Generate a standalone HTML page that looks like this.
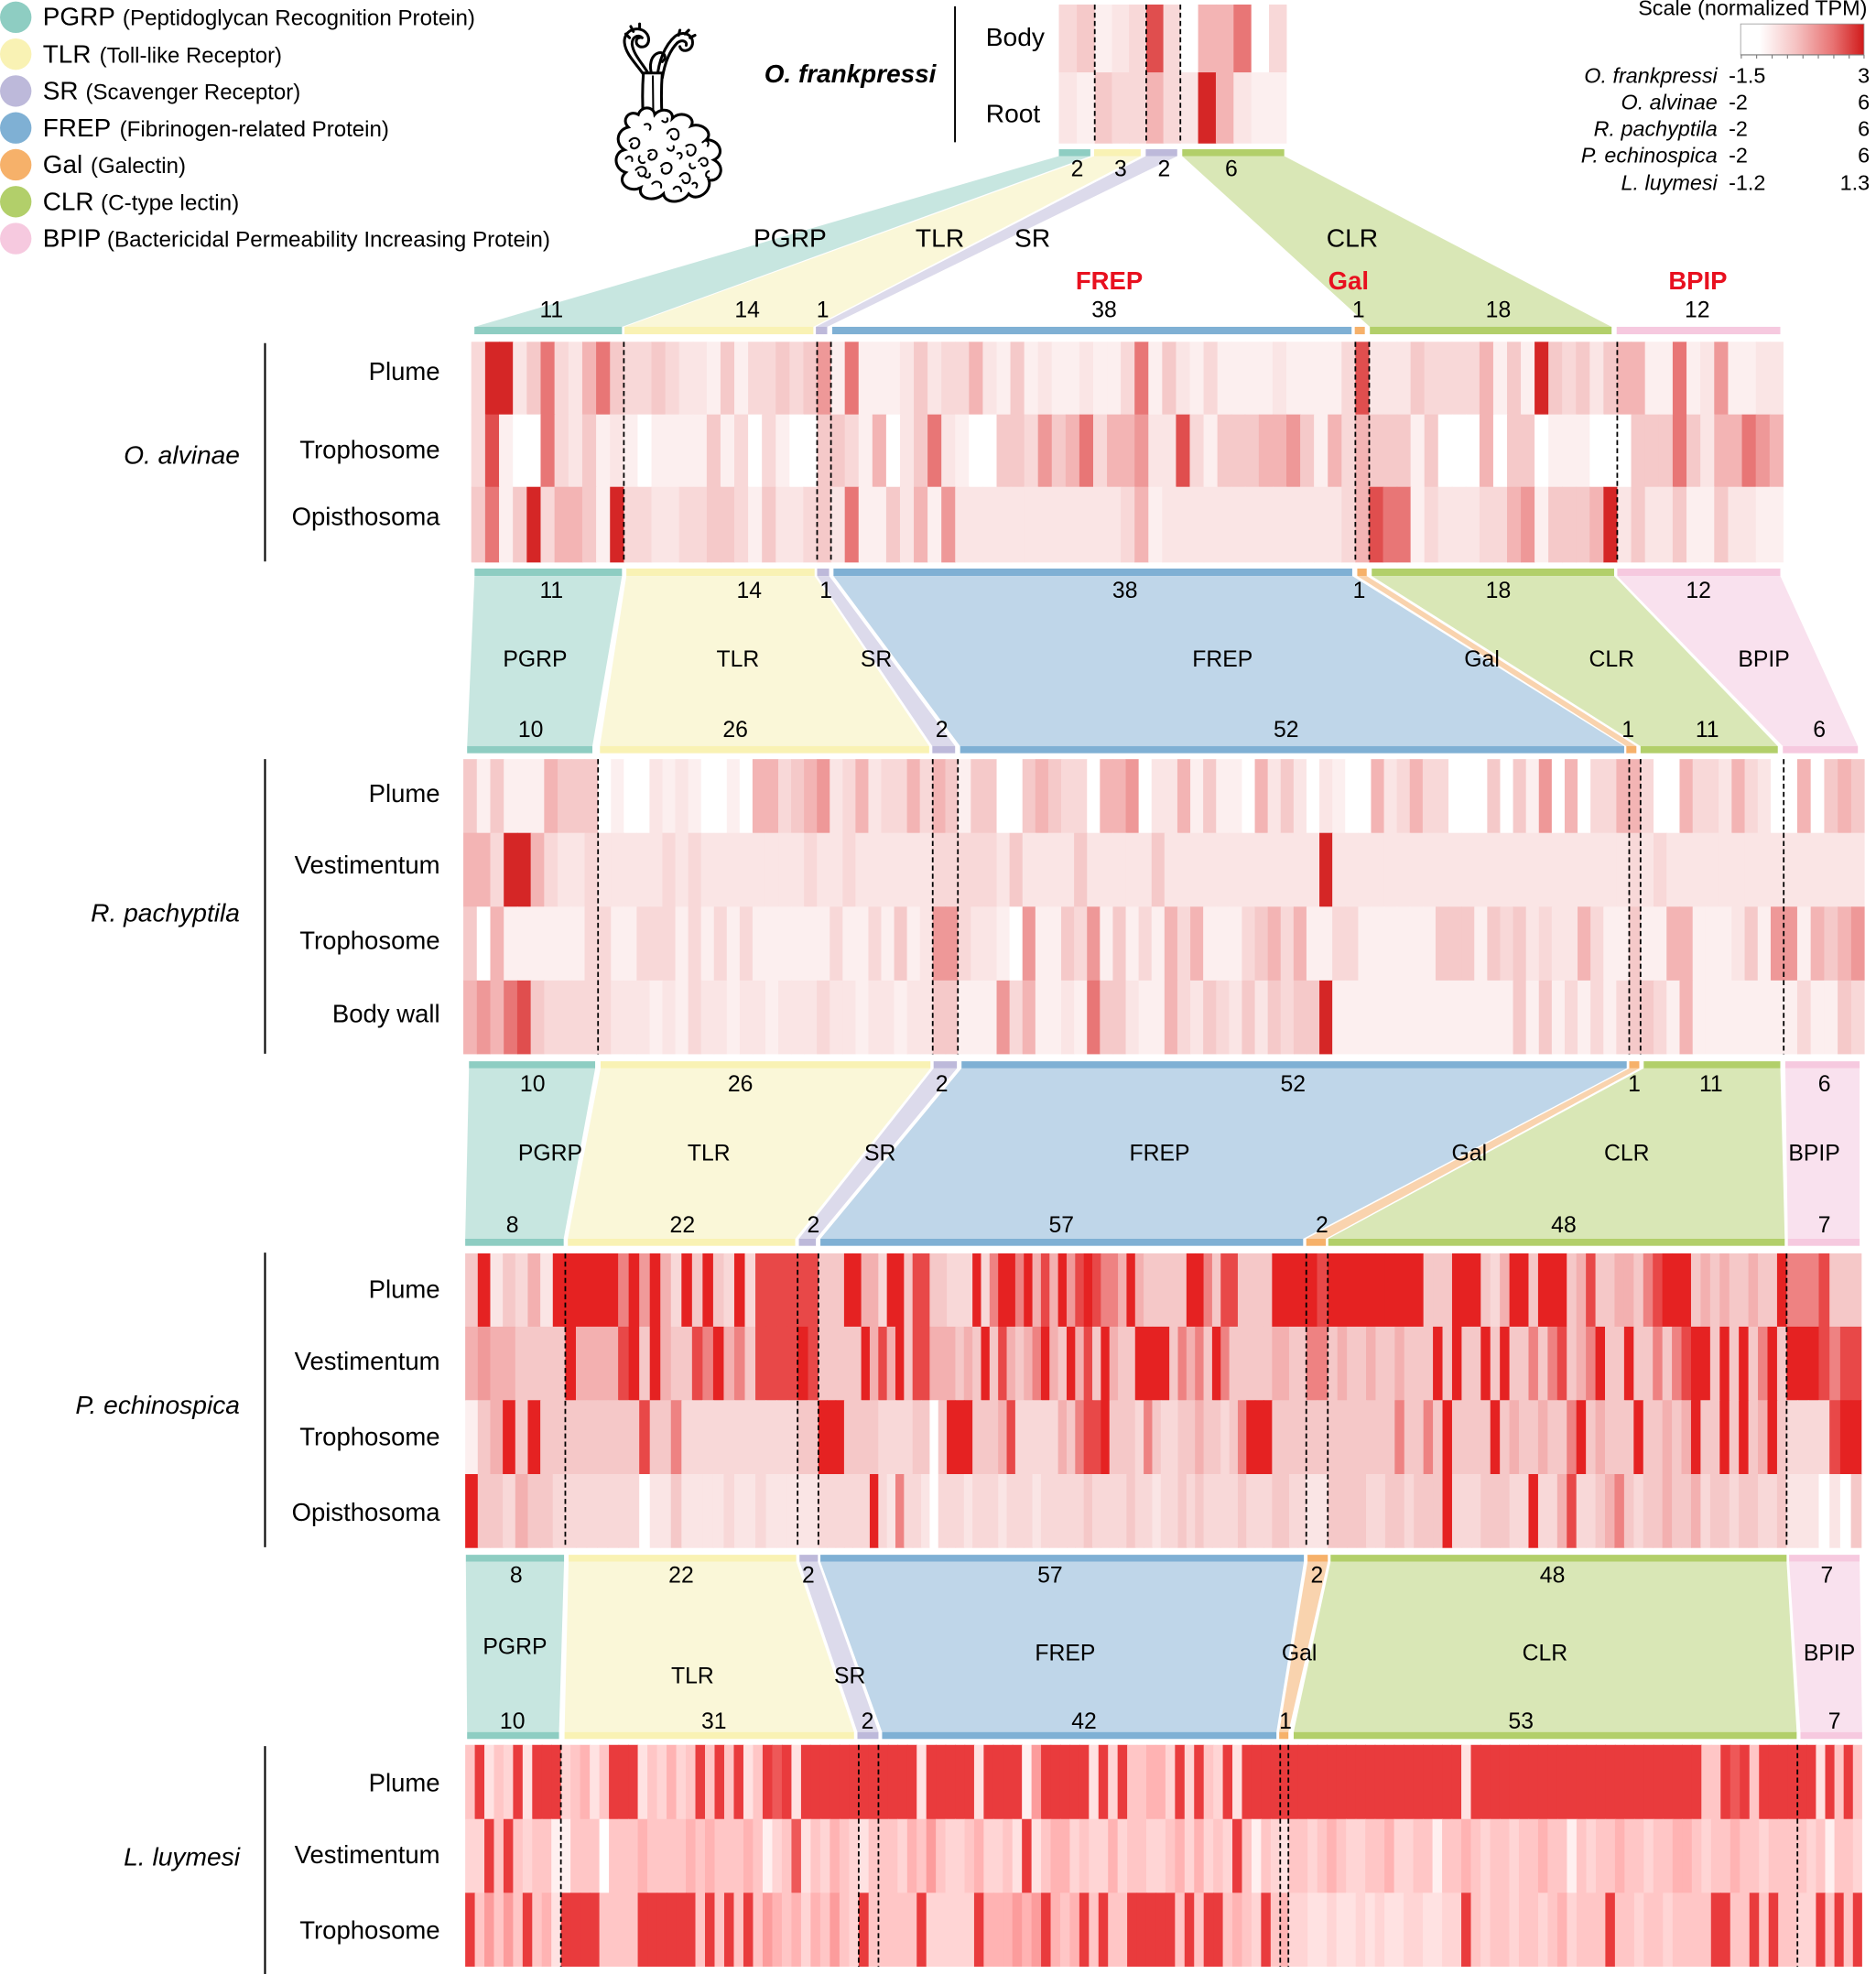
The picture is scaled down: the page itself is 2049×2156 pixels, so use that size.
<!DOCTYPE html>
<html><head><meta charset="utf-8">
<style>
html,body{margin:0;padding:0;background:#fff;}
svg{display:block;}
text{font-family:"Liberation Sans",Arial,Helvetica,sans-serif;fill:#000;}
.n{font-size:18px;text-anchor:middle;}
.l0{font-size:20.5px;text-anchor:middle;}
.l{font-size:18px;text-anchor:middle;}
.r{font-size:20px;font-weight:bold;text-anchor:middle;fill:#E8101F;}
.row{font-size:20px;text-anchor:end;}
.sp{font-size:20.5px;font-style:italic;text-anchor:end;}
.sc{font-size:17px;}
.sci{font-size:17px;font-style:italic;text-anchor:end;}
</style></head><body>
<svg id="c" xmlns="http://www.w3.org/2000/svg" width="2049" height="2156" viewBox="0 0 1490 1568" preserveAspectRatio="none">
<defs>
<linearGradient id="gr" x1="0" x2="1" y1="0" y2="0">
<stop offset="0" stop-color="#FFFFFF"/><stop offset="0.15" stop-color="#FFFFFF"/>
<stop offset="0.45" stop-color="#F5C2C2"/><stop offset="0.75" stop-color="#E87272"/>
<stop offset="1" stop-color="#D01A1A"/>
</linearGradient>
</defs>
<rect x="0" y="0" width="1490" height="1568" fill="#fff"/>
<g id="traps"></g>
<g id="bars"></g>
<g id="heat"></g>
<g id="dash"></g>

<!-- Legend -->
<circle cx="12.5" cy="13.7" r="12.5" fill="#8ECDC2"/>
<circle cx="12.5" cy="43.0" r="12.5" fill="#F9F2B4"/>
<circle cx="12.5" cy="72.3" r="12.5" fill="#BDB9DA"/>
<circle cx="12.5" cy="101.6" r="12.5" fill="#7FB0D4"/>
<circle cx="12.5" cy="130.9" r="12.5" fill="#F6B16A"/>
<circle cx="12.5" cy="160.2" r="12.5" fill="#B2CF6A"/>
<circle cx="12.5" cy="189.5" r="12.5" fill="#F6C9DF"/>
<text x="34" y="19.9" font-size="20.3">PGRP</text>
<text x="97.4" y="19.9" font-size="17.5" textLength="280" lengthAdjust="spacingAndGlyphs">(Peptidoglycan Recognition Protein)</text>
<text x="34" y="49.9" font-size="20.3">TLR</text>
<text x="79" y="49.9" font-size="17.5" textLength="145" lengthAdjust="spacingAndGlyphs">(Toll-like Receptor)</text>
<text x="34" y="78.8" font-size="20.3">SR</text>
<text x="68" y="78.8" font-size="17.5" textLength="170.7" lengthAdjust="spacingAndGlyphs">(Scavenger Receptor)</text>
<text x="34" y="108.4" font-size="20.3">FREP</text>
<text x="95" y="108.4" font-size="17.5" textLength="214" lengthAdjust="spacingAndGlyphs">(Fibrinogen-related Protein)</text>
<text x="34" y="137.5" font-size="20.3">Gal</text>
<text x="72" y="137.5" font-size="17.5" textLength="75.6" lengthAdjust="spacingAndGlyphs">(Galectin)</text>
<text x="34" y="166.8" font-size="20.3">CLR</text>
<text x="80" y="166.8" font-size="17.5" textLength="110" lengthAdjust="spacingAndGlyphs">(C-type lectin)</text>
<text x="34" y="195.9" font-size="20.3">BPIP</text>
<text x="85" y="195.9" font-size="17.5" textLength="352" lengthAdjust="spacingAndGlyphs">(Bactericidal Permeability Increasing Protein)</text>

<!-- Worm icon -->
<g fill="none" stroke="#000" stroke-width="2.2" stroke-linecap="round">
<path d="M513 62 C507 52 497 44 496 34 C495 25 505 20 512 25 C518 30 515 39 508 37 C504 35 505 30 508 30"/>
<path d="M517 62 C512 52 503 44 502 35 C502 29 507 27 510 30"/>
<path d="M522 62 C523 49 528 36 536 29 C542 24 551 27 550 35 C549 41 541 42 540 37"/>
<path d="M526 62 C528 50 532 40 538 34 C542 31 546 33 545 36"/>
<path d="M518 60 C515 52 517 44 523 42 C528 41 530 46 526 49"/>
<path d="M500 30 l-3 -3 M503 25 l-2 -4 M508 23 l0 -4 M539 28 l1 -4 M544 27 l3 -3 M548 30 l4 -2"/>
</g>
<path d="M511 58 C510 72 510 88 512 106 L527 106 C525 88 525 72 526 58 Z" fill="#fff" stroke="#000" stroke-width="2.2"/>
<path d="M518.5 60 L519 104" stroke="#000" stroke-width="1.5" fill="none"/>
<path d="M499 101 C493 95 500 87 507 91 C509 84 519 84 520 91 C525 85 535 87 534 94 C541 87 553 93 549 100 C557 97 567 105 561 111 C572 111 576 123 567 127 C577 132 572 145 563 143 C566 152 553 161 547 154 C542 162 528 162 527 154 C520 161 506 158 509 149 C499 154 489 144 497 137 C487 134 487 121 496 119 C488 114 490 103 499 101 Z" fill="#fff" stroke="#000" stroke-width="2.2"/>
<g fill="none" stroke="#000" stroke-width="1.5" stroke-linecap="round">
<path d="M500 112 c4 -5 10 -1 7 4 c-3 4 -8 1 -5 -2"/>
<path d="M515 120 c5 -3 9 2 5 6 c-4 3 -7 -2 -3 -4"/>
<path d="M530 106 c2 -5 9 -5 9 1 c0 5 -6 5 -6 1"/>
<path d="M545 116 c4 -3 9 0 7 5 c-2 4 -7 3 -6 -1"/>
<path d="M505 135 c3 -4 9 -3 8 2 c-1 4 -6 4 -6 0"/>
<path d="M525 132 c4 -5 10 -2 8 3 c-2 5 -9 3 -7 -1"/>
<path d="M540 140 c3 -4 8 -3 8 2 c0 4 -5 5 -6 1"/>
<path d="M555 128 c2 -4 7 -3 7 1 c0 3 -4 4 -5 1"/>
<path d="M518 146 c3 -3 8 -2 7 3"/>
<path d="M535 150 c2 -3 6 -2 6 2"/>
<path d="M558 113 c3 -3 6 0 4 3"/>
<path d="M497 126 c2 -3 6 -2 5 2"/>
<path d="M512 99 c3 -2 6 1 4 4"/>
<path d="M538 122 c3 -2 5 2 2 4"/>
<path d="M550 146 c2 -2 5 0 3 3"/>
<path d="M508 124 c-2 3 1 7 4 5"/>
<path d="M530 118 c2 3 6 2 5 -2"/>
<path d="M548 130 c-1 3 2 5 4 3"/>
<path d="M512 140 c2 2 5 1 4 -2"/>
<path d="M563 136 c-3 1 -3 5 0 5"/>
<path d="M526 96 c2 2 5 1 4 -2"/>
</g>

<!-- O. frankpressi -->
<text x="607" y="65.5" font-size="20.3" font-weight="bold" font-style="italic">O. frankpressi</text>
<line x1="758.5" y1="5" x2="758.5" y2="113" stroke="#000" stroke-width="1.4"/>
<text x="783" y="36.5" font-size="20.5">Body</text>
<text x="783" y="97" font-size="20.5">Root</text>

<!-- Scale legend -->
<text x="1483" y="12" class="sc" text-anchor="end">Scale (normalized TPM)</text>
<rect x="1382.5" y="19" width="98" height="24.6" fill="url(#gr)" stroke="#999" stroke-width="0.6"/>
<g stroke="#777" stroke-width="0.8">
<line x1="1382.5" y1="43.6" x2="1480.5" y2="43.6"/>
<line x1="1383" y1="43.6" x2="1383" y2="46.5"/><line x1="1395.2" y1="43.6" x2="1395.2" y2="46.5"/>
<line x1="1407.5" y1="43.6" x2="1407.5" y2="46.5"/><line x1="1419.7" y1="43.6" x2="1419.7" y2="46.5"/>
<line x1="1432" y1="43.6" x2="1432" y2="46.5"/><line x1="1444.2" y1="43.6" x2="1444.2" y2="46.5"/>
<line x1="1456.5" y1="43.6" x2="1456.5" y2="46.5"/><line x1="1468.7" y1="43.6" x2="1468.7" y2="46.5"/>
<line x1="1480.5" y1="43.6" x2="1480.5" y2="46.5"/>
</g>
<text x="1364" y="66" class="sci">O. frankpressi</text><text x="1373" y="66" class="sc">-1.5</text><text x="1485" y="66" class="sc" text-anchor="end">3</text>
<text x="1364" y="87" class="sci">O. alvinae</text><text x="1373" y="87" class="sc">-2</text><text x="1485" y="87" class="sc" text-anchor="end">6</text>
<text x="1364" y="108" class="sci">R. pachyptila</text><text x="1373" y="108" class="sc">-2</text><text x="1485" y="108" class="sc" text-anchor="end">6</text>
<text x="1364" y="129" class="sci">P. echinospica</text><text x="1373" y="129" class="sc">-2</text><text x="1485" y="129" class="sc" text-anchor="end">6</text>
<text x="1364" y="151" class="sci">L. luymesi</text><text x="1373" y="151" class="sc">-1.2</text><text x="1485" y="151" class="sc" text-anchor="end">1.3</text>

<!-- Section 0 -->
<text class="n" x="855.5" y="140">2</text>
<text class="n" x="890" y="140">3</text>
<text class="n" x="924.5" y="140">2</text>
<text class="n" x="978" y="140">6</text>
<text class="l0" x="627.5" y="196">PGRP</text>
<text class="l0" x="746.5" y="196">TLR</text>
<text class="l0" x="820" y="196">SR</text>
<text class="l0" x="1074" y="196">CLR</text>
<text class="r" x="881" y="230">FREP</text>
<text class="r" x="1071" y="230">Gal</text>
<text class="r" x="1348.5" y="230">BPIP</text>
<text class="n" x="438" y="252">11</text>
<text class="n" x="593.5" y="252">14</text>
<text class="n" x="653.5" y="252">1</text>
<text class="n" x="877" y="252">38</text>
<text class="n" x="1079" y="252">1</text>
<text class="n" x="1190" y="252">18</text>
<text class="n" x="1348" y="252">12</text>

<!-- Section 1 -->
<text class="n" x="438" y="475">11</text>
<text class="n" x="595" y="475">14</text>
<text class="n" x="656" y="475">1</text>
<text class="n" x="893.5" y="475">38</text>
<text class="n" x="1079.5" y="475">1</text>
<text class="n" x="1190" y="475">18</text>
<text class="n" x="1349" y="475">12</text>
<text class="l" x="425" y="529.6">PGRP</text>
<text class="l" x="586" y="529.6">TLR</text>
<text class="l" x="696" y="529.6">SR</text>
<text class="l" x="971" y="529.6">FREP</text>
<text class="l" x="1177" y="529.6">Gal</text>
<text class="l" x="1280" y="529.6">CLR</text>
<text class="l" x="1401" y="529.6">BPIP</text>
<text class="n" x="421.5" y="585.5">10</text>
<text class="n" x="584" y="585.5">26</text>
<text class="n" x="748" y="585.5">2</text>
<text class="n" x="1021.5" y="585.5">52</text>
<text class="n" x="1293" y="585.5">1</text>
<text class="n" x="1356" y="585.5">11</text>
<text class="n" x="1445" y="585.5">6</text>

<!-- Section 2 -->
<text class="n" x="423" y="867">10</text>
<text class="n" x="588" y="867">26</text>
<text class="n" x="748" y="867">2</text>
<text class="n" x="1027" y="867">52</text>
<text class="n" x="1298" y="867">1</text>
<text class="n" x="1359" y="867">11</text>
<text class="n" x="1449" y="867">6</text>
<text class="l" x="437" y="922">PGRP</text>
<text class="l" x="563" y="922">TLR</text>
<text class="l" x="699" y="922">SR</text>
<text class="l" x="921" y="922">FREP</text>
<text class="l" x="1167" y="922">Gal</text>
<text class="l" x="1292" y="922">CLR</text>
<text class="l" x="1441" y="922">BPIP</text>
<text class="n" x="407" y="979">8</text>
<text class="n" x="542" y="979">22</text>
<text class="n" x="646" y="979">2</text>
<text class="n" x="843" y="979">57</text>
<text class="n" x="1050" y="979">2</text>
<text class="n" x="1242" y="979">48</text>
<text class="n" x="1449" y="979">7</text>

<!-- Section 3 -->
<text class="n" x="410" y="1257">8</text>
<text class="n" x="541" y="1257">22</text>
<text class="n" x="642" y="1257">2</text>
<text class="n" x="834" y="1257">57</text>
<text class="n" x="1046" y="1257">2</text>
<text class="n" x="1233" y="1257">48</text>
<text class="n" x="1451" y="1257">7</text>
<text class="l" x="409" y="1314">PGRP</text>
<text class="l" x="550" y="1337">TLR</text>
<text class="l" x="675" y="1337">SR</text>
<text class="l" x="846" y="1319">FREP</text>
<text class="l" x="1032" y="1319">Gal</text>
<text class="l" x="1227" y="1319">CLR</text>
<text class="l" x="1453" y="1319">BPIP</text>
<text class="n" x="407" y="1373">10</text>
<text class="n" x="567" y="1373">31</text>
<text class="n" x="689" y="1373">2</text>
<text class="n" x="861" y="1373">42</text>
<text class="n" x="1021" y="1373">1</text>
<text class="n" x="1208" y="1373">53</text>
<text class="n" x="1457" y="1373">7</text>

<!-- Species and rows -->
<g stroke="#000" stroke-width="1.5">
<line x1="210.5" y1="272.5" x2="210.5" y2="446"/>
<line x1="210.5" y1="603" x2="210.5" y2="837"/>
<line x1="210.5" y1="995" x2="210.5" y2="1229"/>
<line x1="210.5" y1="1387" x2="210.5" y2="1568"/>
</g>
<text class="sp" x="190.5" y="368.5">O. alvinae</text>
<text class="sp" x="190.5" y="732">R. pachyptila</text>
<text class="sp" x="190.5" y="1123">P. echinospica</text>
<text class="sp" x="190.5" y="1482">L. luymesi</text>

<text class="row" x="349.5" y="302">Plume</text>
<text class="row" x="349.5" y="364">Trophosome</text>
<text class="row" x="349.5" y="417">Opisthosoma</text>

<text class="row" x="349.5" y="637">Plume</text>
<text class="row" x="349.5" y="694">Vestimentum</text>
<text class="row" x="349.5" y="754">Trophosome</text>
<text class="row" x="349.5" y="812">Body wall</text>

<text class="row" x="349.5" y="1031">Plume</text>
<text class="row" x="349.5" y="1088">Vestimentum</text>
<text class="row" x="349.5" y="1148">Trophosome</text>
<text class="row" x="349.5" y="1208">Opisthosoma</text>

<text class="row" x="349.5" y="1423">Plume</text>
<text class="row" x="349.5" y="1480">Vestimentum</text>
<text class="row" x="349.5" y="1540">Trophosome</text>
</svg>
<script>
(function(){
var NS='http://www.w3.org/2000/svg';
function el(t,a,p){var e=document.createElementNS(NS,t);for(var k in a)e.setAttribute(k,a[k]);p.appendChild(e);return e;}
var gT=document.getElementById('traps'),gB=document.getElementById('bars'),gH=document.getElementById('heat'),gD=document.getElementById('dash');
var BAR=['#8ECDC2','#F9F2B4','#BDB9DA','#7FB0D4','#F6B16A','#B2CF6A','#F6C9DF'];
var TRAP=['#C7E6E0','#FAF7D8','#DCDAEB','#BFD6E9','#F9D3AE','#D9E7B6','#F9E1EE'];
var B=[
{y:[118.5,124],s:[[841,866],[869,906],[910,935],null,null,[939,1020],null]},
{y:[259.6,265.5],s:[[376.8,494],[496,646],[648,657],[661,1073.5],[1076,1084],[1088,1280],[1284,1414]]},
{y:[451.6,457.5],s:[[376.9,494],[497.5,647],[649,658.5],[662,1074],[1078,1085.5],[1089.5,1282],[1284.5,1414]]},
{y:[592.7,598.3],s:[[371,470.5],[476.5,738],[740.5,758.6],[762.6,1290],[1291.7,1299.7],[1303,1412],[1416,1475.6]]},
{y:[843,848.6],s:[[372.5,472.7],[477,739],[741.5,760],[763.7,1292],[1294,1302],[1305.5,1414],[1418,1477]]},
{y:[984,989.6],s:[[369.5,447.7],[451,631.6],[634.5,648],[651.6,1035],[1037.5,1053],[1055,1417.5],[1420,1477]]},
{y:[1235,1240.5],s:[[370,448],[451.6,632.4],[635,649.6],[651.6,1035.6],[1038.5,1054.6],[1056.8,1419],[1421,1477]]},
{y:[1375.8,1381.3],s:[[371,444],[448.4,678.3],[681,697.7],[700.6,1013.8],[1016,1023.3],[1027.5,1427],[1430,1479]]}
];
B.forEach(function(bb){bb.s.forEach(function(s,i){if(s)el('rect',{x:s[0],y:bb.y[0],width:(s[1]-s[0]).toFixed(2),height:(bb.y[1]-bb.y[0]).toFixed(2),fill:BAR[i]},gB);});});
[[0,1],[2,3],[4,5],[6,7]].forEach(function(p){var a=B[p[0]],b=B[p[1]];for(var i=0;i<7;i++){var s=a.s[i],t=b.s[i];if(!s||!t)continue;
el('polygon',{points:s[0]+','+a.y[1]+' '+s[1]+','+a.y[1]+' '+t[1]+','+b.y[0]+' '+t[0]+','+b.y[0],fill:TRAP[i]},gT);}});

var P1=['#FFFFFF','#FCEFEF','#FAE5E5','#F8D8D8','#F5C9C9','#F3B4B4','#EE9898','#E87676','#E04E4E','#D52626'];
var P2=['#FFFFFF','#FCEFEF','#FAE5E5','#F8D8D8','#F5C8C8','#F3B0B0','#F09A9A','#EE8282','#E84848','#E52222'];
var P3=['#FFFFFF','#FFF0F0','#FFE2E2','#FFD5D5','#FFC6C6','#FFB3B3','#FC9C9C','#F47A7A','#EE5858','#E93B3D'];

function heat(b,ys,counts,rows,pal){
  for(var r=0;r<rows.length;r++){
    var y0=ys[r],h=ys[r+1]-ys[r];
    for(var g=0;g<counts.length;g++){
      var s=rows[r][g].replace(/\s/g,''),n=counts[g];
      while(s.length<n)s+=s.charAt(s.length-1)||'2';
      var w=(b[g+1]-b[g])/n;
      for(var k=0;k<n;k++){
        var ww=(k==n-1&&g==counts.length-1)?w:w+0.5;
        el('rect',{x:(b[g]+k*w).toFixed(2),y:y0.toFixed(2),width:ww.toFixed(2),height:(r==rows.length-1?h:h+0.5).toFixed(2),fill:pal[+s.charAt(k)]},gH);
      }
    }
  }
  for(var g2=1;g2<counts.length;g2++){
    el('line',{x1:b[g2],x2:b[g2],y1:ys[0],y2:ys[ys.length-1],stroke:'#000','stroke-width':1.3,'stroke-dasharray':'4,2.5'},gD);
  }
}

/* O. frankpressi */
heat([841,869.5,910.4,937.5,1022],[3.6,57.5,114],[2,3,2,6],
 [["34","123","83","055703"],["21","433","53","295211"]],P1);

/* O. alvinae */
heat([374.3,495.5,649,660,1076.5,1087.5,1284.5,1416.5],[271.5,329.2,386.7,446.8],[11,14,1,38,1,18,12],[
 ["39924732574","33432214133434","6","171112423352141211211"+"37142131111211113","8","222433335141943424","551171261122"],
 ["38100732412","10111141303100","4","431502472100443645735"+"56228314445564153","5","444140005044011100","044474255765"],
 ["47149355419","33223344314223","4","271142516222222222222"+"35122222222222223","5","877132223356144459","242241142211"]
],P1);

/* R. pachyptila */
heat([368,475,740.8,760.8,1294,1303,1416.7,1481],[603,661.6,720.2,778.8,837.4],[10,26,2,52,1,11,6],[
 ["4141115444","01002121001055345623523353","54","1440045433055602251411052420210052353300040416050335","5","30053325320","050454"],
 ["5539953223","22222323222222223223222222","33","3332422224"+"2222242222"+"22222222"+"9"+"22222222222222222222222","3","23222222222","222222"],
 ["4051111113","31133313131311111131131412","66","3221061143614131535111345351133111111444143423225311","4","11551112416","615456"],
 ["5657843333","32221213221221222322122122","44","1116351121"+"7442115324"+"32424344"+"9"+"11111111111111"+"414131313","4","43151111111","131143"]
],P1);

/* P. echinospica */
heat([369.5,449,633.5,650,1037.5,1054.6,1419,1478.6],[995.6,1053.8,1112.2,1170.9,1229.6],[8,22,2,57,2,48,7],[
 ["49243529","9999979695394943938888","88","4449955399"+"4884433393"+"7997958596"+"8987759544"+"4449974884"+"4449999","98","9999999999"+"4449994359"+"9499945844"+"5547899945"+"45445449","7778444"],
 ["56554444","9555589495448795748888","98","4444495859"+"4885554549"+"4854579549"+"5849544999"+"9475749744"+"4445544","77","4544544544"+"4949449494"+"4747845794"+"4944747899"+"49494794","9998788"],
 ["14594944","4444444844733333333333","44","9994444333"+"3440499944"+"4583333354"+"7889444374"+"3344544347"+"9994444","44","4444444744"+"7494444945"+"4454479454"+"4494454594"+"49494594","3333899"],
 ["94435443","3333333022422223223222","22","3333339327"+"3320333233"+"3233323333"+"3433334332"+"3343433334"+"3334433","22","4444334434"+"4493334443"+"3933583345"+"7434454453"+"44344334","2220204"]
],P2);

/* L. luymesi */
heat([369.5,445.5,682,697.7,1016.8,1023.3,1427.6,1479],[1386,1444.9,1503.5,1562.2],[10,31,2,42,1,53,7],[
 ["4924392999","3452499924"+"3534949492"+"4989299999"+"9","99","9999299999"+"2999916999"+"9929394455"+"3939439299"+"99","9","999999999999999999"+"2"+"999999999999999999999999"+"4498949999","9929494"],
 ["3394943441","1444044454"+"4445454445"+"4134824354"+"3","24","4435464334"+"5334292455"+"3433534433"+"4535343941"+"43","2","4434543344"+"5334414454"+"3443445441"+"4344544344"+"5543445443"+"444","4341443"],
 ["9464649452","9999444499"+"9999494949"+"4654535464"+"3","94","4444933333"+"9555656954"+"5949449999"+"9494994543"+"94","5","3322322323"+"2233223394"+"3443443453"+"4449443443"+"4444994494"+"944","3394949"]
],P3);
})();
</script>
</body></html>
